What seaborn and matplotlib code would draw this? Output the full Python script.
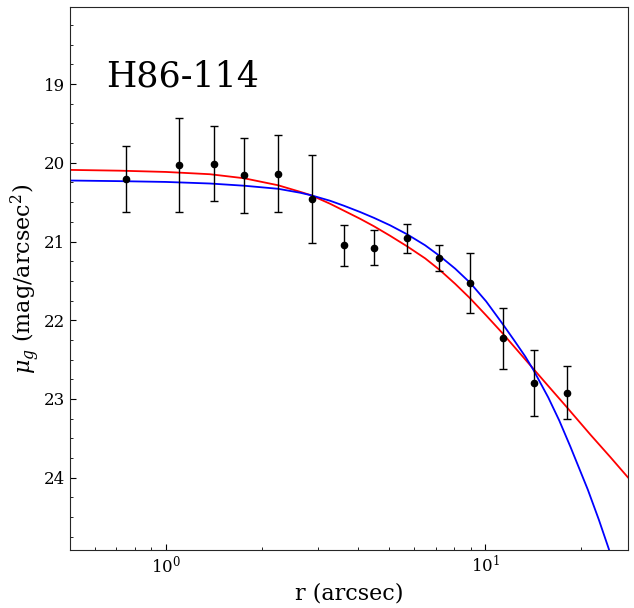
import numpy as np
import pandas as pd
import matplotlib
matplotlib.use("Agg")
import matplotlib.pyplot as plt
import seaborn as sns
from matplotlib.ticker import MultipleLocator

# measured surface brightness profile
r_obs = [0.75, 1.10, 1.41, 1.76, 2.25, 2.86, 3.62, 4.50, 5.71, 7.19, 8.99, 11.33, 14.17, 17.98]
mu_obs = [20.21, 20.03, 20.01, 20.16, 20.14, 20.46, 21.05, 21.08, 20.96, 21.21, 21.53, 22.23, 22.80, 22.92]
mu_err = [0.42, 0.60, 0.48, 0.48, 0.49, 0.56, 0.26, 0.22, 0.18, 0.16, 0.38, 0.39, 0.42, 0.34]

# fitted profiles
r_red = [0.500, 0.717, 1.000, 1.374, 1.756, 2.245, 2.631, 2.848, 3.267, 3.614, 4.057,
         4.487, 5.037, 5.693, 6.485, 7.226, 8.054, 8.974, 10.07, 11.31, 13.35, 15.76,
         17.94, 21.34, 24.65, 28.08]
mu_red = [20.090, 20.100, 20.116, 20.145, 20.196, 20.285, 20.368, 20.412, 20.520, 20.609, 20.711,
          20.807, 20.927, 21.061, 21.214, 21.366, 21.538, 21.723, 21.939, 22.162, 22.499, 22.836,
          23.097, 23.453, 23.739, 24.004]

r_blue = [0.500, 0.717, 1.000, 1.374, 1.756, 2.245, 2.631, 2.848, 3.267, 3.614, 4.057,
          4.487, 5.037, 5.693, 6.485, 7.226, 8.054, 8.974, 10.07, 11.31, 12.33, 13.35,
          14.14, 15.76, 17.06, 18.48, 20.96, 22.69, 24.43]
mu_blue = [20.225, 20.233, 20.243, 20.263, 20.291, 20.330, 20.380, 20.412, 20.482, 20.546, 20.625,
           20.700, 20.794, 20.908, 21.048, 21.188, 21.345, 21.525, 21.761, 22.041, 22.257, 22.461,
           22.628, 22.982, 23.275, 23.606, 24.153, 24.534, 24.916]

sns.set_style("ticks")
plt.rcParams['font.family'] = ['DejaVu Serif']
plt.rcParams['mathtext.fontset'] = 'dejavuserif'
plt.rcParams['text.color'] = 'black'
plt.rcParams['axes.labelcolor'] = 'black'
plt.rcParams['xtick.color'] = 'black'
plt.rcParams['ytick.color'] = 'black'

fig = plt.figure(figsize=(6.34, 6.08), dpi=100)
ax = fig.add_axes([0.110, 0.0954, 0.8805, 0.8931])

red_df = pd.DataFrame({'r': r_red, 'mu': mu_red})
blue_df = pd.DataFrame({'r': r_blue, 'mu': mu_blue})
sns.lineplot(data=red_df, x='r', y='mu', color='red', lw=1.3, estimator=None, ax=ax)
sns.lineplot(data=blue_df, x='r', y='mu', color='blue', lw=1.3, estimator=None, ax=ax)

ax.errorbar(r_obs, mu_obs, yerr=mu_err, fmt='o', color='black', ms=4.5,
            elinewidth=1, capsize=3, capthick=1, zorder=5)

ax.set_xscale('log')
ax.set_xlim(0.5, 28)
ax.set_ylim(24.92, 18.02)
ax.yaxis.set_major_locator(MultipleLocator(1))
ax.yaxis.set_minor_locator(MultipleLocator(0.25))
ax.tick_params(which='both', direction='in', top=False, right=False, labelsize=12)
ax.tick_params(which='major', length=4)
ax.tick_params(which='minor', length=2.5)
for sp in ax.spines.values():
    sp.set_color('#262626')

ax.set_xlabel('r (arcsec)', fontsize=16)
ax.set_ylabel(r'$\mu_g$ (mag/arcsec$^2$)', fontsize=16, labelpad=1)
ax.text(0.066, 0.853, 'H86-114', transform=ax.transAxes, fontsize=25, va='baseline')

fig.savefig('out.png', dpi=100)
